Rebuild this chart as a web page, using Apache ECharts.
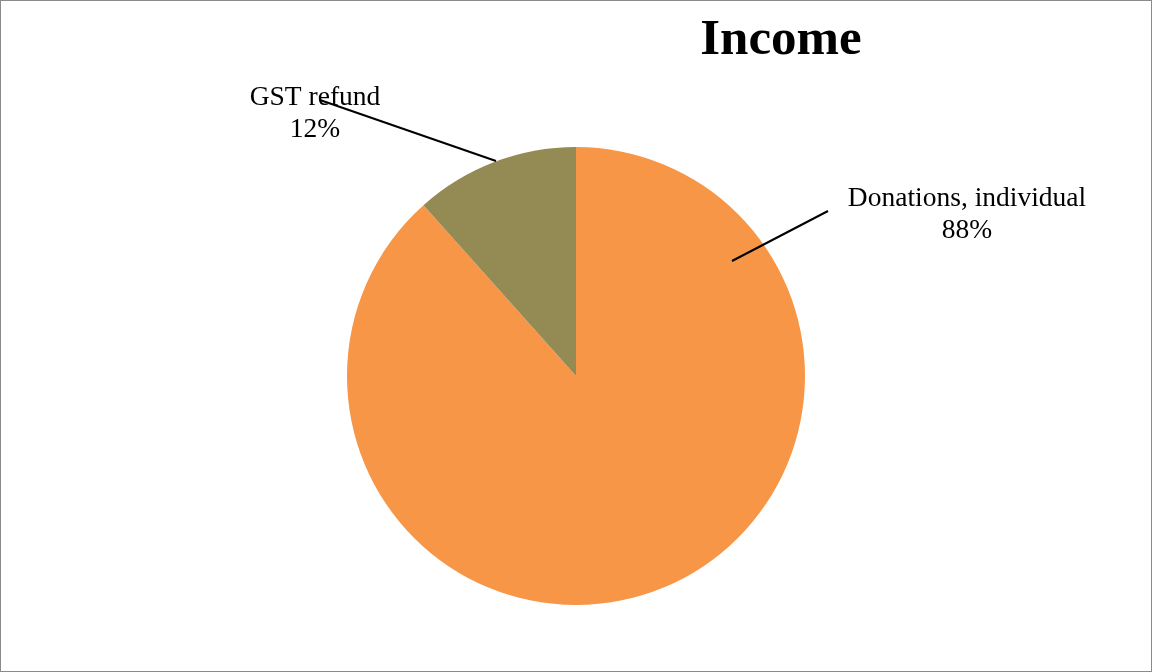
<!DOCTYPE html>
<html>
<head>
<meta charset="utf-8">
<script src="https://cdn.jsdelivr.net/npm/echarts@6/dist/echarts.min.js"></script>
<style>
html,body{margin:0;padding:0;background:#fff;}
#c{width:1152px;height:672px;box-sizing:border-box;border:1px solid #8a8a8a;}
</style>
</head>
<body>
<div id="c"></div>
<script>
const categories = ['Donations, individual', 'GST refund'];
const values = [88.4, 11.6];
const colors = ['#F79646', '#948A54'];

const chart = echarts.init(document.getElementById('c'));
const cx = 575, cy = 375, R = 229;
// label anchors and leader lines (Excel-style), relative to pie centre
const labelPos = [
  {x: cx + 391, y: cy - 161, line: [[cx + 156, cy - 115], [cx + 252, cy - 165]]},
  {x: cx - 261, y: cy - 262, line: [[cx - 80, cy - 215], [cx - 256, cy - 276]]}
];
chart.setOption({
  animation: false,
  title: {
    text: 'Income',
    left: 775, top: 9, textAlign: 'center',
    textStyle: {fontFamily: 'Liberation Serif', fontWeight: 'bold', fontSize: 51, color: '#000'}
  },
  graphic: labelPos.map(L => ({
    type: 'line', z: 100, silent: true,
    shape: {x1: L.line[0][0], y1: L.line[0][1], x2: L.line[1][0], y2: L.line[1][1]},
    style: {stroke: '#000', lineWidth: 2}
  })),
  series: [{
    type: 'pie',
    center: [cx, cy],
    radius: R,
    startAngle: 90,
    clockwise: true,
    silent: true,
    data: categories.map((n, i) => ({name: n, value: values[i], itemStyle: {color: colors[i]}})),
    label: {
      show: true,
      position: 'outside',
      formatter: p => p.name + '\n' + Math.round(p.percent) + '%',
      fontFamily: 'Liberation Serif',
      fontSize: 27.5,
      lineHeight: 32,
      color: '#000',
      align: 'center'
    },
    labelLine: {show: false},
    labelLayout: function (p) {
      const L = labelPos[p.dataIndex];
      return {x: L.x, y: L.y, align: 'center', verticalAlign: 'middle'};
    }
  }]
});
</script>
</body>
</html>
